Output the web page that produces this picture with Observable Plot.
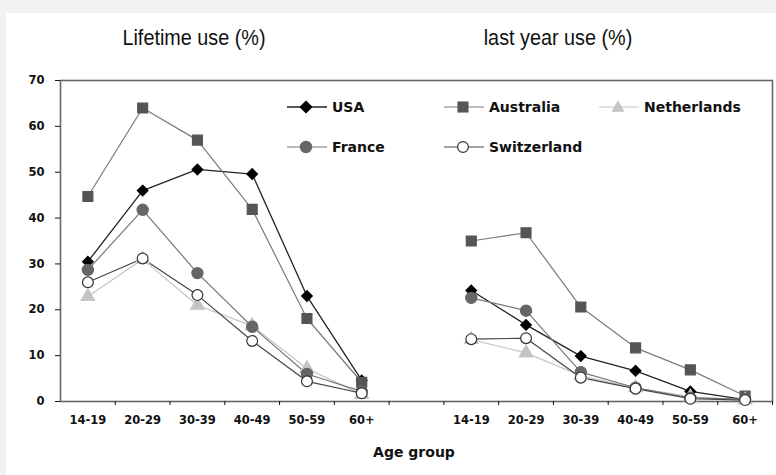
<!DOCTYPE html>
<html><head><meta charset="utf-8">
<script src="https://cdn.jsdelivr.net/npm/d3@7"></script>
<script src="https://cdn.jsdelivr.net/npm/@observablehq/plot@0.6"></script>
<style>
html,body{margin:0;padding:0;background:#f2f2f2;width:776px;height:475px;overflow:hidden}
#panel{position:absolute;left:6px;top:13px;width:770px;height:462px;background:#fff}
#chart{position:absolute;left:0;top:0}
.title{position:absolute;top:23px;width:260px;text-align:center;font-family:"Liberation Sans",Arial,sans-serif;font-size:22px;line-height:30px;color:#111;transform:scaleX(0.9);transform-origin:center}
.leg{position:absolute;height:20px;display:flex;align-items:center;font:bold 14px "DejaVu Sans",sans-serif;color:#111;white-space:nowrap}
.leg svg{margin-right:4px}
#xlabel{position:absolute;left:0;width:776px;top:444px;text-align:center;font:bold 14px "DejaVu Sans",sans-serif;color:#111;padding-left:52px;box-sizing:border-box}
</style></head>
<body>
<div id="panel"></div>
<div id="chart"></div>
<div class="title" style="left:64px">Lifetime use (%)</div>
<div class="title" style="left:428px">last year use (%)</div>
<div id="legend"></div>
<script>
// Categories
const ageGroups = ["14-19","20-29","30-39","40-49","50-59","60+"];
const countries = ["USA","Australia","Netherlands","France","Switzerland"];
const periods = ["Lifetime","Last year"];
const yTicks = [0,10,20,30,40,50,60,70];

// Lifetime use (%)
const lifetimeUSA         = [30.5, 46.0, 50.6, 49.6, 23.0, 4.6];
const lifetimeAustralia   = [44.7, 64.0, 57.0, 41.9, 18.1, 4.2];
const lifetimeNetherlands = [22.9, 31.0, 21.0, 16.5, 7.2, 1.5];
const lifetimeFrance      = [28.7, 41.8, 28.0, 16.3, 6.0, 2.2];
const lifetimeSwitzerland = [26.0, 31.2, 23.2, 13.2, 4.4, 1.8];

// Last year use (%)
const lastYearUSA         = [24.2, 16.7, 9.9, 6.7, 2.2, 0.4];
const lastYearAustralia   = [35.0, 36.8, 20.6, 11.7, 6.9, 1.2];
const lastYearNetherlands = [13.5, 10.6, 5.6, 3.0, 1.0, 0.3];
const lastYearFrance      = [22.6, 19.8, 6.4, 3.0, 0.8, 0.5];
const lastYearSwitzerland = [13.6, 13.8, 5.2, 2.8, 0.6, 0.3];

const series = {
  USA: [lifetimeUSA, lastYearUSA],
  Australia: [lifetimeAustralia, lastYearAustralia],
  Netherlands: [lifetimeNetherlands, lastYearNetherlands],
  France: [lifetimeFrance, lastYearFrance],
  Switzerland: [lifetimeSwitzerland, lastYearSwitzerland]
};

const styles = {
  USA:         {symbol:"diamond2", r:4.8, fill:"#000",  stroke:"#000",  line:"#222", lw:1.3},
  Australia:   {symbol:"square",   r:5.6, fill:"#555",  stroke:"#555",  line:"#7a7a7a", lw:1.2},
  Netherlands: {symbol:"triangle", r:5.0, fill:"#c4c4c4", stroke:"#c4c4c4", line:"#c4c4c4", lw:1.2},
  France:      {symbol:"circle",   r:5.6, fill:"#666",  stroke:"#666",  line:"#777", lw:1.2},
  Switzerland: {symbol:"circle",   r:5.4, fill:"#fff",  stroke:"#333",  line:"#444", lw:1.2}
};

// slot positions: left group 0..5, gap slot 6, right group 7..12
const slot = (p, i) => p === 0 ? i : i + 7;
const rows = [];
countries.forEach(c => periods.forEach((per, p) => series[c][p].forEach((v, i) =>
  rows.push({country: c, period: per, x: slot(p, i), age: ageGroups[i], value: v}))));

const labelSlots = [];
const labelOf = {};
periods.forEach((per, p) => ageGroups.forEach((a, i) => { labelSlots.push(slot(p, i)); labelOf[slot(p, i)] = a; }));
const boundaries = d3.range(13).map(i => i + 0.5);

const marks = [
  Plot.frame({stroke: "#666", strokeWidth: 1.6}),
  Plot.axisY({ticks: yTicks, tickSize: 5, tickPadding: 11, label: null, fontSize: 11.5}),
  Plot.axisX({ticks: boundaries, tickSize: 4, tickFormat: () => "", label: null}),
  Plot.axisX({ticks: labelSlots, tickSize: 0, tickPadding: 14, tickFormat: d => labelOf[d], label: null, fontSize: 11.5})
];
countries.forEach(c => {
  const s = styles[c];
  const data = rows.filter(d => d.country === c);
  marks.push(Plot.lineY(data, {x: "x", y: "value", z: "period", stroke: s.line, strokeWidth: s.lw}));
});
countries.forEach(c => {
  const s = styles[c];
  const data = rows.filter(d => d.country === c);
  marks.push(Plot.dot(data, {x: "x", y: "value", symbol: s.symbol, r: s.r, fill: s.fill, stroke: s.stroke, strokeWidth: 1.2}));
});

const chart = Plot.plot({
  width: 776, height: 475,
  marginLeft: 60, marginRight: 4, marginTop: 80, marginBottom: 74,
  x: {type: "linear", domain: [-0.5, 12.5]},
  y: {domain: [0, 70]},
  style: {background: "transparent", fontFamily: "'DejaVu Sans', sans-serif", fontWeight: "bold", fontSize: "11.5px", color: "#111"},
  marks
});
document.getElementById("chart").appendChild(chart);

// Legend (inside the frame)
const legendPos = {
  USA: [286, 97], Australia: [443, 97], Netherlands: [598, 97],
  France: [286, 137], Switzerland: [443, 137]
};
const symPath = {
  diamond2: r => { const a = r*1.2; return `<path d="M20,${10-a} L${20+a},10 L20,${10+a} L${20-a},10Z"/>`; },
  square: r => { const h = r*0.886; return `<rect x="${20-h}" y="${10-h}" width="${2*h}" height="${2*h}"/>`; },
  triangle: r => { const h = r*1.1; return `<path d="M20,${10-h} L${20+h},${10+h*0.75} L${20-h},${10+h*0.75}Z"/>`; },
  circle: r => `<circle cx="20" cy="10" r="${r}"/>`
};
const leg = document.getElementById("legend");
countries.forEach(c => {
  const s = styles[c];
  const [lx, ly] = legendPos[c];
  const div = document.createElement("div");
  div.className = "leg";
  div.style.left = lx + "px"; div.style.top = ly + "px";
  div.innerHTML = `<svg width="42" height="20"><line x1="1" x2="41" y1="10" y2="10" stroke="${s.line}" stroke-width="${s.lw}"/><g fill="${s.fill}" stroke="${s.stroke}" stroke-width="1.2">${symPath[s.symbol](s.r)}</g></svg><span>${c}</span>`;
  leg.appendChild(div);
});
</script>
<div id="xlabel">Age group</div>
</body></html>
